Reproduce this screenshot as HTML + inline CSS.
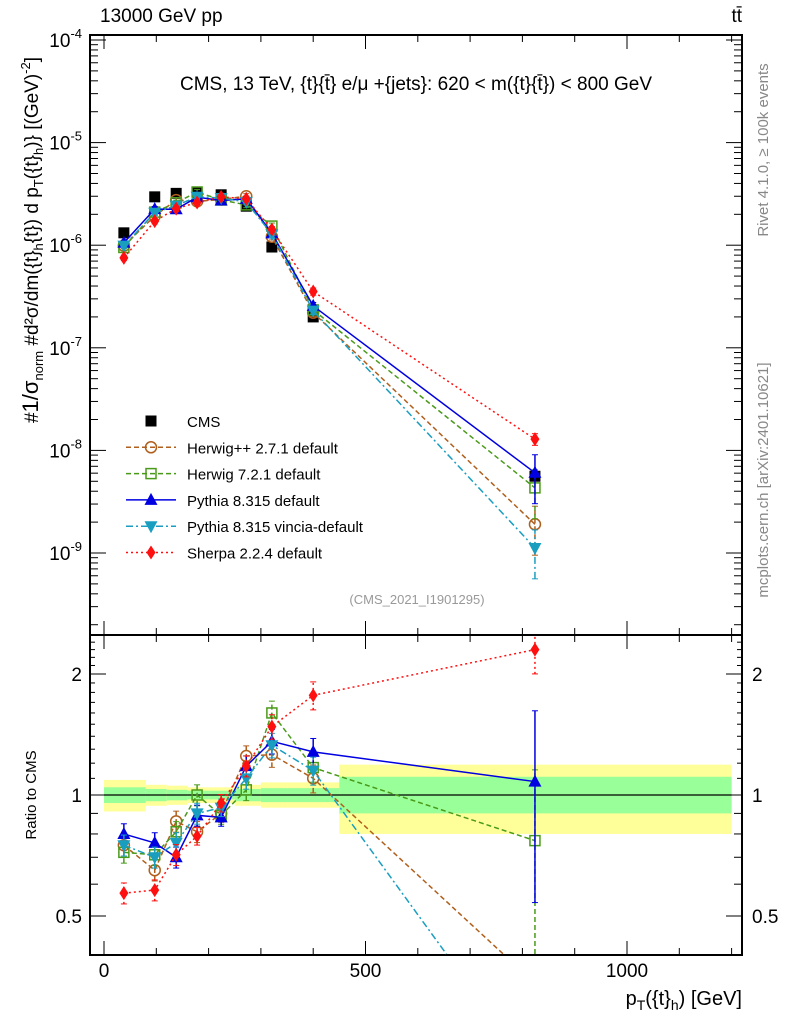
<!DOCTYPE html>
<html><head><meta charset="utf-8"><style>
html,body{margin:0;padding:0;background:#fff;width:786px;height:1024px;overflow:hidden;}
svg{display:block;font-family:"Liberation Sans",sans-serif;}
</style></head><body>
<svg id="c" width="786" height="1024" viewBox="0 0 786 1024">
<defs>
<clipPath id="cm"><rect x="90" y="35" width="652" height="600"/></clipPath>
<clipPath id="cr"><rect x="90" y="635" width="652" height="320"/></clipPath>
</defs>
<g id="bands" clip-path="url(#cr)"></g>
<g id="axes"></g>
<g id="mainSeries" clip-path="url(#cm)"></g>
<g id="ratioSeries" clip-path="url(#cr)"></g>
<g id="legend"></g>
<text x="100" y="22" font-size="19">13000 GeV pp</text>
<text x="742" y="22" font-size="19" text-anchor="end">tt̄</text>
<text x="416" y="90" font-size="19" text-anchor="middle">CMS, 13 TeV, {t}{t̄} e/μ +{jets}: 620 &lt; m({t}{t̄}) &lt; 800 GeV</text>
<text x="417" y="604" font-size="13" fill="#999" text-anchor="middle">(CMS_2021_I1901295)</text>
<text transform="translate(768,150) rotate(-90)" font-size="15" fill="#888" text-anchor="middle">Rivet 4.1.0, ≥ 100k events</text>
<text transform="translate(768,480) rotate(-90)" font-size="15" fill="#888" text-anchor="middle">mcplots.cern.ch [arXiv:2401.10621]</text>
<text transform="translate(38,240) rotate(-90)" font-size="19" text-anchor="middle">#<tspan font-size="22">1/σ</tspan><tspan font-size="13" dy="5">norm</tspan><tspan dy="-5"> #d²σ/dm({t}</tspan><tspan font-size="13" dy="5">h</tspan><tspan dy="-5">{t}) d p</tspan><tspan font-size="13" dy="5">T</tspan><tspan dy="-5">({t}</tspan><tspan font-size="13" dy="5">h</tspan><tspan dy="-5">)} [(GeV)</tspan><tspan font-size="13" dy="-8">-2</tspan><tspan dy="8">]</tspan></text>
<text transform="translate(36,795) rotate(-90)" font-size="15" text-anchor="middle">Ratio to CMS</text>
<text x="742" y="1005" font-size="20" text-anchor="end">p<tspan font-size="14" dy="5">T</tspan><tspan dy="-5">({t}</tspan><tspan font-size="14" dy="5">h</tspan><tspan dy="-5">) [GeV]</tspan></text>
</svg>
<script>
const xs=[38,97,138,178,224,272,321,400,824];
const binEdges=[0,80,120,160,200,250,300,350,450,1200];
const cmsVals=[1.32e-6,2.96e-6,3.2e-6,3.3e-6,3.1e-6,2.4e-6,9.6e-7,2.0e-7,5.6e-9];
const yellowLo=[0.91,0.94,0.945,0.955,0.955,0.94,0.93,0.93,0.80];
const yellowHi=[1.09,1.06,1.055,1.045,1.045,1.06,1.075,1.075,1.19];
const greenLo=[0.955,0.965,0.97,0.975,0.975,0.965,0.96,0.96,0.90];
const greenHi=[1.045,1.035,1.03,1.025,1.025,1.035,1.04,1.04,1.11];
const herwigppRatio=[0.75,0.65,0.86,0.81,0.90,1.25,1.26,1.10,0.34];
const herwig7Ratio=[0.72,0.71,0.81,1.0,0.89,1.03,1.6,1.17,0.77];
const pythiaRatio=[0.80,0.76,0.70,0.89,0.88,1.18,1.36,1.28,1.08];
const vinciaRatio=[0.75,0.70,0.76,0.90,0.93,1.10,1.33,1.15,0.20];
const sherpaRatio=[0.57,0.58,0.71,0.79,0.955,1.18,1.48,1.77,2.3];
const mcRelErr=[0.06,0.06,0.06,0.06,0.05,0.06,0.07,0.08,0.5];
const sherpaRelErr=[0.06,0.06,0.06,0.05,0.05,0.06,0.07,0.08,0.13];
const xTicks=[0,500,1000];
const mainTickExp=[-9,-8,-7,-6,-5,-4];
const ratioTicks=[0.5,1,2];

const NS="http://www.w3.org/2000/svg";
const X=v=>104+v*0.523;
const YM=v=>40-(Math.log10(v)+4)*102.6;
const YR=r=>795-Math.log2(r)*121;
function mk(tag,attrs,parent){const e=document.createElementNS(NS,tag);for(const k in attrs)e.setAttribute(k,attrs[k]);(parent||document.getElementById('c')).appendChild(e);return e;}
function clipPts(pts,top,bot){
 const out=[];
 for(let i=0;i<pts.length;i++){
  const [x,y]=pts[i];
  if(y>=top&&y<=bot){out.push([x,y]);continue;}
  const lim=y>bot?bot:top;
  if(i>0){const [px,py]=pts[i-1];if(py>=top&&py<=bot){out.push([px+(x-px)*(lim-py)/(y-py),lim]);}}
  break;
 }
 return out;}
const bands=document.getElementById('bands'),axes=document.getElementById('axes');
for(let i=0;i<xs.length;i++){
 const y=mk('rect',{x:X(binEdges[i]),width:X(binEdges[i+1])-X(binEdges[i]),y:YR(yellowHi[i]),height:YR(yellowLo[i])-YR(yellowHi[i]),fill:'#ffff99'},bands);
 
 
 const g=mk('rect',{x:X(binEdges[i]),width:X(binEdges[i+1])-X(binEdges[i]),y:YR(greenHi[i]),height:YR(greenLo[i])-YR(greenHi[i]),fill:'#99ff99'},bands);
 
 
}
mk('line',{x1:X(0),x2:X(1200),y1:YR(1),y2:YR(1),stroke:'#000','stroke-width':1.3},bands);
const f1=mk('rect',{x:90,y:35,width:652,height:600,fill:'none',stroke:'#000','stroke-width':2},axes);

const f2=mk('rect',{x:90,y:635,width:652,height:320,fill:'none',stroke:'#000','stroke-width':2},axes);

for(let v=0;v<=1200;v+=100){const maj=v%500===0;const L=maj?14:7;const x=X(v);
 for(const [t,b] of [[35,635],[635,955]]){mk('line',{x1:x,x2:x,y1:b,y2:b-L,stroke:'#000'},axes);mk('line',{x1:x,x2:x,y1:t,y2:t+L,stroke:'#000'},axes);}}
xTicks.forEach(v=>{const t=mk('text',{x:X(v),y:977,'font-size':19,'text-anchor':'middle'},axes);t.textContent=v;
 
 });
for(let e=-10;e<=-4;e++){for(let m=1;m<10;m++){const v=m*Math.pow(10,e);const y=YM(v);if(y<35||y>635)continue;const L=m===1?16:8;
 mk('line',{x1:90,x2:90+L,y1:y,y2:y,stroke:'#000'},axes);mk('line',{x1:742,x2:742-L,y1:y,y2:y,stroke:'#000'},axes);}}
mainTickExp.forEach(e=>{const t=mk('text',{x:82,y:YM(Math.pow(10,e))+7,'font-size':19,'text-anchor':'end'},axes);
 t.innerHTML='10<tspan font-size="13" dy="-9">'+e+'</tspan>';
 
 });
for(const v of [0.4,0.5,0.6,0.7,0.8,0.9,1,2]){const y=YR(v);const L=(v===0.5||v===1||v===2)?16:8;
 mk('line',{x1:90,x2:90+L,y1:y,y2:y,stroke:'#000'},axes);mk('line',{x1:742,x2:742-L,y1:y,y2:y,stroke:'#000'},axes);}
for(let v=1.1;v<2.5;v+=0.1){if(Math.abs(v-2)<0.01)continue;const y=YR(v);if(y<636)continue;mk('line',{x1:90,x2:95,y1:y,y2:y,stroke:'#000'},axes);mk('line',{x1:742,x2:737,y1:y,y2:y,stroke:'#000'},axes);}
ratioTicks.forEach(v=>{for(const [x,a] of [[82,'end'],[752,'start']]){const t=mk('text',{x:x,y:YR(v)+7,'font-size':19,'text-anchor':a},axes);t.textContent=v;
 
 }});
function marker(kind,x,y,col,parent){
 let e;
 if(kind==='sq') e=mk('rect',{x:x-5.5,y:y-5.5,width:11,height:11,fill:'#000'},parent);
 else if(kind==='osq') e=mk('rect',{x:x-5,y:y-5,width:10,height:10,fill:'none',stroke:col,'stroke-width':1.5},parent);
 else if(kind==='oc') e=mk('circle',{cx:x,cy:y,r:5.5,fill:'none',stroke:col,'stroke-width':1.5},parent);
 else if(kind==='tu') e=mk('polygon',{points:`${x},${y-7} ${x-6.5},${y+5} ${x+6.5},${y+5}`,fill:col},parent);
 else if(kind==='td') e=mk('polygon',{points:`${x},${y+7} ${x-6.5},${y-5} ${x+6.5},${y-5}`,fill:col},parent);
 else e=mk('polygon',{points:`${x},${y-7} ${x+4.5},${y} ${x},${y+7} ${x-4.5},${y}`,fill:col},parent);
 return e;}
const series=[
 {name:'herwigpp',label:'Herwig++ 2.7.1 default',r:herwigppRatio,err:mcRelErr,col:'#b05f1c',dash:'5,3',m:'oc'},
 {name:'herwig7',label:'Herwig 7.2.1 default',r:herwig7Ratio,err:mcRelErr,col:'#4a9a1a',dash:'5,3',m:'osq'},
 {name:'pythia',label:'Pythia 8.315 default',r:pythiaRatio,err:mcRelErr,col:'#0000e0',dash:'',m:'tu'},
 {name:'vincia',label:'Pythia 8.315 vincia-default',r:vinciaRatio,err:mcRelErr,col:'#1a9ec0',dash:'7,3,2,3',m:'td'},
 {name:'sherpa',label:'Sherpa 2.2.4 default',r:sherpaRatio,err:sherpaRelErr,col:'#ff1010',dash:'2,3',m:'di'}];
const mainG=document.getElementById('mainSeries'),ratG=document.getElementById('ratioSeries'),leg=document.getElementById('legend');
cmsVals.forEach((v,i)=>{const m=marker('sq',X(xs[i]),YM(v),'#000',mainG);
 
 });
series.forEach(s=>{
 const vals=s.r.map((r,i)=>r*cmsVals[i]);
 for(const [g,fy,vs,top,bot] of [[mainG,YM,vals,36,634],[ratG,YR,s.r,636,954]]){
  const pts=clipPts(xs.map((x,i)=>[X(x),fy(vs[i])]),top,bot);
  const p=mk('polyline',{points:pts.map(q=>q[0]+','+q[1]).join(' '),fill:'none',stroke:s.col,'stroke-width':1.5,'stroke-dasharray':s.dash},g);
  
  
  vs.forEach((v,i)=>{const x=X(xs[i]);const yv=fy(v);
   if(yv<top||yv>bot)return;
   const lo=Math.max(v*(1-s.err[i]),1e-12),hi=v*(1+s.err[i]);
   const ylo=Math.min(fy(lo),bot),yhi=Math.max(fy(hi),top);
   mk('line',{x1:x,x2:x,y1:ylo,y2:yhi,stroke:s.col,'stroke-width':1.5,'stroke-dasharray':s.dash},g);
   if(ylo<bot)mk('line',{x1:x-3,x2:x+3,y1:ylo,y2:ylo,stroke:s.col},g);
   if(yhi>top)mk('line',{x1:x-3,x2:x+3,y1:yhi,y2:yhi,stroke:s.col},g);
   const m=marker(s.m,x,yv,s.col,g);
   
   });
 }
});
const legItems=[{label:'CMS',m:'sq',col:'#000',dash:null}].concat(series.map(s=>({label:s.label,m:s.m,col:s.col,dash:s.dash})));
legItems.forEach((it,i)=>{const y=421+i*26.3;const g=mk('g',{},leg);
 
 
 if(it.dash!==null) mk('line',{x1:126,x2:176,y1:y,y2:y,stroke:it.col,'stroke-width':1.5,'stroke-dasharray':it.dash},g);
 marker(it.m,151,y,it.col,g);
 const t=mk('text',{x:187,y:y+6,'font-size':15},g);t.textContent=it.label;});
</script>
</body></html>
